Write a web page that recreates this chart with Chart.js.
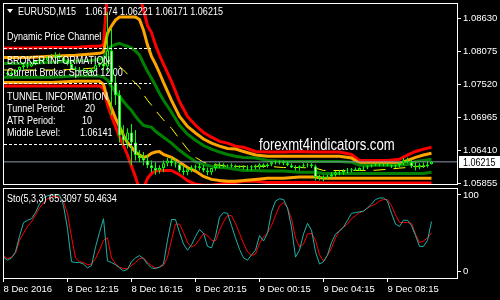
<!DOCTYPE html>
<html><head><meta charset="utf-8">
<script src="https://cdn.jsdelivr.net/npm/chart.js@4.4.0/dist/chart.umd.min.js"></script>
<style>
html,body{margin:0;padding:0;background:#000;width:500px;height:300px;overflow:hidden}
#c1{position:absolute;left:0;top:0}
#c2{position:absolute;left:0;top:186px}
</style></head><body>
<canvas id="c1" width="500" height="188"></canvas>
<canvas id="c2" width="500" height="114"></canvas>
<script>
// ---- candles (EURUSD M15, one value per bar) ----
const opens = [1.0772,1.0771,1.0769,1.0772,1.0776,1.0781,1.0784,1.0782,1.0787,1.0791,
1.0794,1.0792,1.0797,1.0796,1.0801,1.0797,1.0791,1.0786,1.0779,1.0777,
1.0776,1.0774,1.0772,1.0777,1.0784,1.0787,1.0782,1.0809,1.0755,1.0734,
1.0666,1.0658,1.0671,1.0654,1.0633,1.0628,1.0624,1.0616,1.0611,1.0607,
1.0611,1.0619,1.0624,1.0619,1.0617,1.0607,1.0604,1.0609,1.0612,1.0614,
1.0611,1.0607,1.0604,1.0611,1.0616,1.0617,1.0616,1.0616,1.0614,1.0614,
1.0612,1.0611,1.0612,1.0614,1.0612,1.0617,1.0614,1.0617,1.0621,1.0622,
1.0621,1.0619,1.0616,1.0612,1.0611,1.0614,1.0616,1.0617,1.0614,1.0596,
1.0594,1.0596,1.0597,1.0600,1.0604,1.0604,1.0606,1.0607,1.0609,1.0607,
1.0611,1.0612,1.0614,1.0616,1.0617,1.0616,1.0617,1.0616,1.0614,1.0616,
1.0619,1.0624,1.0621,1.0614,1.0612,1.0616,1.0614,1.06174];
const highs = [1.0777,1.0774,1.0774,1.0777,1.0782,1.0786,1.0787,1.0789,1.0792,1.0796,
1.0797,1.0799,1.0803,1.0806,1.0804,1.0799,1.0794,1.0789,1.0782,1.0781,
1.0779,1.0777,1.0779,1.0786,1.0789,1.0796,1.0874,1.0846,1.0767,1.0742,
1.0683,1.0678,1.0685,1.0675,1.0641,1.0638,1.0633,1.0624,1.0621,1.0616,
1.0624,1.0628,1.0629,1.0628,1.0621,1.0616,1.0612,1.0616,1.0617,1.0619,
1.0616,1.0612,1.0611,1.0619,1.0621,1.0619,1.0617,1.0619,1.0617,1.0616,
1.0616,1.0616,1.0616,1.0617,1.0619,1.0619,1.0619,1.0622,1.0624,1.0624,
1.0624,1.0622,1.0619,1.0616,1.0616,1.0619,1.0619,1.0619,1.0617,1.0600,
1.0599,1.0600,1.0604,1.0606,1.0607,1.0609,1.0611,1.0611,1.0612,1.0612,
1.0614,1.0616,1.0617,1.0619,1.0619,1.0619,1.0619,1.0617,1.0617,1.0621,
1.0628,1.0629,1.0626,1.0621,1.0619,1.0621,1.0622,1.06221];
const lows = [1.0767,1.0766,1.0766,1.0769,1.0774,1.0777,1.0779,1.0781,1.0784,1.0787,
1.0789,1.0791,1.0792,1.0794,1.0794,1.0789,1.0784,1.0777,1.0774,1.0772,
1.0771,1.0769,1.0771,1.0776,1.0781,1.0776,1.0772,1.0700,1.0717,1.0654,
1.0649,1.0644,1.0616,1.0624,1.0621,1.0616,1.0611,1.0604,1.0600,1.0602,
1.0604,1.0614,1.0614,1.0612,1.0604,1.0599,1.0599,1.0604,1.0607,1.0607,
1.0604,1.0599,1.0600,1.0607,1.0611,1.0612,1.0612,1.0612,1.0611,1.0611,
1.0609,1.0607,1.0607,1.0609,1.0609,1.0611,1.0612,1.0614,1.0617,1.0617,
1.0616,1.0614,1.0611,1.0607,1.0607,1.0611,1.0612,1.0611,1.0590,1.0590,
1.0589,1.0592,1.0594,1.0597,1.0599,1.0600,1.0602,1.0604,1.0606,1.0606,
1.0607,1.0609,1.0612,1.0614,1.0614,1.0614,1.0614,1.0611,1.0611,1.0612,
1.0616,1.0619,1.0611,1.0607,1.0609,1.0611,1.0612,1.06171];
const closes = [1.0771,1.0769,1.0772,1.0776,1.0781,1.0784,1.0782,1.0787,1.0791,1.0794,
1.0792,1.0797,1.0796,1.0801,1.0797,1.0791,1.0786,1.0779,1.0777,1.0776,
1.0774,1.0772,1.0777,1.0784,1.0787,1.0782,1.0809,1.0755,1.0734,1.0666,
1.0658,1.0671,1.0654,1.0633,1.0628,1.0624,1.0616,1.0611,1.0607,1.0611,
1.0619,1.0624,1.0619,1.0617,1.0607,1.0604,1.0609,1.0612,1.0614,1.0611,
1.0607,1.0604,1.0611,1.0616,1.0617,1.0616,1.0615,1.0614,1.0613,1.0612,
1.0611,1.0612,1.0614,1.0612,1.0617,1.0614,1.0617,1.0621,1.0622,1.0621,
1.0619,1.0616,1.0612,1.0611,1.0614,1.0616,1.0617,1.0614,1.0596,1.0594,
1.0596,1.0597,1.0600,1.0604,1.0603,1.0606,1.0607,1.0609,1.0607,1.0611,
1.0612,1.0614,1.0616,1.0617,1.0616,1.0617,1.0616,1.0614,1.0616,1.0619,
1.0624,1.0621,1.0614,1.0612,1.0616,1.0614,1.0617,1.06215];

// ---- channel lines, read at these bars ----
const bandBars = [0,6,12,18,22,24,25,26,27,28,29,30,31,32,33,34,35,36,37,38,39,40,42,44,46,48,50,52,54,56,58,60,63,66,70,74,78,80,84,87,89,92,96,99,101,103,105,107];
const redUpper = [1.0813,1.0813,1.0814,1.0814,1.0816,1.0816,1.0818,1.0910,1.0944,1.0952,1.0952,1.0952,1.0952,1.0952,1.0952,1.0902,1.0877,1.0851,1.0839,1.0818,1.0801,1.0786,1.0757,1.0723,1.0698,1.0683,1.0671,1.0663,1.0656,1.0653,1.0648,1.0646,1.0639,1.0638,1.0638,1.0639,1.0638,1.0638,1.0638,1.0634,1.0624,1.0624,1.0624,1.0626,1.0633,1.0639,1.0643,1.0646];
const orangeUpper = [1.0797,1.0797,1.0799,1.0801,1.0803,1.0804,1.0806,1.0838,1.0850,1.0860,1.0865,1.0865,1.0865,1.0865,1.0865,1.0861,1.0843,1.0818,1.0799,1.0786,1.0771,1.0755,1.0725,1.0698,1.0681,1.0670,1.0660,1.0653,1.0648,1.0644,1.0643,1.0639,1.0633,1.0631,1.0631,1.0631,1.0631,1.0631,1.0631,1.0628,1.0619,1.0619,1.0619,1.0619,1.0624,1.0629,1.0633,1.0636];
const greenUpper = [1.0787,1.0787,1.0789,1.0791,1.0792,1.0794,1.0797,1.0809,1.0816,1.0819,1.0821,1.0818,1.0816,1.0813,1.0808,1.0801,1.0787,1.0774,1.0762,1.0750,1.0737,1.0725,1.0705,1.0683,1.0668,1.0658,1.0649,1.0643,1.0638,1.0634,1.0631,1.0629,1.0628,1.0624,1.0622,1.0622,1.0622,1.0622,1.0622,1.0621,1.0616,1.0616,1.0616,1.0616,1.0617,1.0622,1.0624,1.0626];
const middle = [1.0776,1.0776,1.0776,1.0777,1.0779,1.0781,1.0782,1.0791,1.0792,1.0787,1.0782,1.0776,1.0769,1.0760,1.0754,1.0747,1.0735,1.0725,1.0717,1.0708,1.0700,1.0692,1.0678,1.0660,1.0643,1.0629,1.0621,1.0617,1.0616,1.0614,1.0614,1.0614,1.0614,1.0614,1.0612,1.0612,1.0611,1.0607,1.0607,1.0607,1.0607,1.0607,1.0609,1.0611,1.0612,1.0614,1.0614,1.0614];
const greenLower = [1.0764,1.0764,1.0764,1.0766,1.0766,1.0766,1.0764,1.0759,1.0749,1.0739,1.0732,1.0723,1.0715,1.0708,1.0698,1.0690,1.0683,1.0681,1.0680,1.0673,1.0668,1.0663,1.0653,1.0641,1.0631,1.0622,1.0617,1.0614,1.0612,1.0611,1.0609,1.0607,1.0607,1.0606,1.0606,1.0604,1.0604,1.0602,1.0602,1.0602,1.0602,1.0602,1.0602,1.0602,1.0602,1.0602,1.0602,1.0604];
const orangeLower = [1.0755,1.0755,1.0755,1.0757,1.0757,1.0757,1.0752,1.0728,1.0712,1.0695,1.0681,1.0666,1.0654,1.0646,1.0638,1.0633,1.0629,1.0631,1.0636,1.0638,1.0639,1.0634,1.0629,1.0621,1.0612,1.0606,1.0597,1.0592,1.0590,1.0589,1.0589,1.0590,1.0592,1.0594,1.0594,1.0596,1.0596,1.0594,1.0594,1.0594,1.0594,1.0594,1.0594,1.0594,1.0594,1.0594,1.0594,1.0594];
const redLower = [1.0749,1.0749,1.0749,1.0749,1.0749,1.0749,1.0745,1.0718,1.0698,1.0681,1.0663,1.0649,1.0633,1.0614,1.0596,1.0574,1.0577,1.0594,1.0602,1.0606,1.0607,1.0607,1.0607,1.0600,1.0590,1.0584,1.0582,1.0582,1.0584,1.0586,1.0587,1.0589,1.0589,1.0587,1.0587,1.0587,1.0587,1.0586,1.0586,1.0586,1.0586,1.0586,1.0586,1.0586,1.0586,1.0586,1.0586,1.0586];

// ---- stochastic (5,3,3) ----
const stochMain = [19,15,18,26,46,64,67,69,77,88,
96,99,100,100,100,86,56,13,12,12,
10,5,8,32,51,69,14,12,9,5,
1,3,13,18,21,17,10,5,4,6,
10,41,68,68,51,36,28,35,46,55,
50,33,31,46,71,77,76,60,44,29,
18,15,22,28,47,40,50,78,92,95,
94,83,58,19,28,49,63,54,26,10,
13,22,38,49,53,58,67,76,77,78,
79,83,88,94,96,96,92,76,62,59,
67,67,60,47,33,33,41,65.3097];
const stochSignal = [21,17,19,24,41,50,59,65,74,83,
90,95,97,99,97,91,76,45,18,13,
12,9,10,17,28,41,44,18,10,6,
4,4,8,12,17,18,12,8,5,6,
8,19,41,62,62,51,38,32,35,42,
50,47,41,40,54,65,73,73,63,50,
37,26,21,23,37,45,51,60,73,86,
90,83,69,44,32,36,49,50,41,22,
14,21,31,44,54,58,62,69,73,77,
79,83,86,88,92,94,94,86,74,64,
64,64,63,49,38,40,44,50.4634];

// ---- axes ----
const priceTicks = [1.08630,1.08075,1.07520,1.06965,1.06410,1.05855];
const stochTicks = [0,100];
const timeTicks = [0,16,32,48,64,80,96];
const timeLabels = ['8 Dec 2016','8 Dec 12:15','8 Dec 16:15','8 Dec 20:15','9 Dec 00:15','9 Dec 04:15','9 Dec 08:15'];
const lastPrice = 1.06215;

const FONT = "'Liberation Sans',Arial,sans-serif";
const TICKFONT = {family:FONT, size:9.5};
const XMIN = -0.125, XMAX = 113.625;
const NARROW = 0.82;

// draws condensed text (narrow Tahoma-like look)
function narrowText(ctx, s, x, y, size){
  ctx.save();
  ctx.font = size + 'px ' + FONT;
  ctx.scale(NARROW, 1);
  ctx.fillText(s, x / NARROW, y);
  ctx.restore();
}

const framePlugin = {
  id:'frame',
  afterDraw(chart){
    const a = chart.chartArea, ctx = chart.ctx;
    ctx.save();
    ctx.strokeStyle = '#fff'; ctx.lineWidth = 1;
    ctx.strokeRect(a.left+0.5, a.top+0.5, a.right-a.left-1, a.bottom-a.top-1);
    ctx.restore();
  }
};

const overlayPlugin = {
  id:'overlay',
  afterDatasetsDraw(chart){
    const ctx = chart.ctx;
    ctx.save();
    ctx.strokeStyle = '#fff'; ctx.lineWidth = 1; ctx.setLineDash([3,2]);
    [48.5, 83.5, 144.5].forEach(y=>{ctx.beginPath();ctx.moveTo(4,y);ctx.lineTo(151,y);ctx.stroke();});
    ctx.setLineDash([]);
    ctx.fillStyle = '#fff';
    ctx.textBaseline = 'alphabetic';
    const t = [
      [18,15,'EURUSD,M15'],[85,15,'1.06174 1.06221 1.06171 1.06215'],
      [7,39.5,'Dynamic Price Channel'],
      [7,64,'BROKER INFORMATION:'],
      [7,75.5,'Current Broker Spread 12.00'],
      [7,99.5,'TUNNEL INFORMATION'],
      [7,112,'Tunnel Period:'],[85,112,'20'],
      [7,124,'ATR Period:'],[82,124,'10'],
      [7,135.5,'Middle Level:'],[80,135.5,'1.06141']
    ];
    t.forEach(([x,y,s])=>narrowText(ctx, s, x, y, 11));
    ctx.beginPath(); ctx.moveTo(7,9); ctx.lineTo(13,9); ctx.lineTo(10,13); ctx.closePath(); ctx.fill();
    narrowText(ctx, 'forexmt4indicators.com', 259, 149.5, 16);
    ctx.restore();
  },
  afterDraw(chart){
    const ctx = chart.ctx, y = Math.round(chart.scales.y.getPixelForValue(lastPrice));
    ctx.save();
    ctx.fillStyle = '#fff';
    ctx.fillRect(459, y-6, 41, 12);
    ctx.fillStyle = '#000';
    ctx.textBaseline = 'middle';
    narrowText(ctx, lastPrice.toFixed(5), 463, y+0.5, 11);
    ctx.restore();
  }
};

const line = (xs, ys, color, width, extra) => Object.assign({
  type:'line', data: xs.map((x,i)=>({x, y:ys[i]})), borderColor: color, borderWidth: width,
  pointRadius:0, tension:0, fill:false, clip:0
}, extra||{});

const bars = opens.map((_,i)=>i);

new Chart(document.getElementById('c1'), {
  type:'bar',
  data:{datasets:[
    {type:'bar', data: bars.map(i=>({x:i, y:[opens[i], closes[i]]})),
      backgroundColor: c => (c.dataIndex!==undefined && closes[c.dataIndex] < opens[c.dataIndex]) ? '#ffffff' : '#000000',
      borderColor:'#00ff00', borderWidth:1, borderSkipped:false, barThickness:3, grouped:false, inflateAmount:0, order:0, clip:0},
    {type:'bar', data: bars.map(i=>({x:i, y:[lows[i], highs[i]]})),
      backgroundColor:'#00ff00', borderWidth:0, barThickness:1, grouped:false, inflateAmount:0, order:1, clip:0},
    line([XMIN, XMAX], [lastPrice, lastPrice], '#8a98a8', 1, {order:2}),
    line(bandBars, middle, '#ffff00', 1, {borderDash:[12,8], order:3}),
    line(bandBars, greenUpper, '#008000', 3, {order:4}),
    line(bandBars, greenLower, '#008000', 3, {order:5}),
    line(bandBars, orangeUpper, '#ffa500', 3, {order:6}),
    line(bandBars, orangeLower, '#ffa500', 3, {order:7}),
    line(bandBars, redUpper, '#ff0000', 3, {order:8}),
    line(bandBars, redLower, '#ff0000', 3, {order:9})
  ]},
  options:{
    responsive:false, animation:false, events:[],
    layout:{padding:{left:3, right:0, top:3, bottom:3}},
    plugins:{legend:{display:false}, tooltip:{enabled:false}},
    scales:{
      x:{type:'linear', min:XMIN, max:XMAX, offset:false, display:false, grid:{offset:false}},
      y:{type:'linear', position:'right', min:1.05826, max:1.08887,
        afterBuildTicks: s => { s.ticks = priceTicks.map(v=>({value:v})); },
        afterFit: s => { s.width = 42; s.paddingTop = 0; s.paddingBottom = 0; },
        ticks:{color:'#fff', font:TICKFONT, padding:2, callback: v => Number(v).toFixed(5)},
        grid:{drawOnChartArea:false, drawTicks:true, tickLength:3, color:'#fff'},
        border:{display:false}}
    }
  },
  plugins:[overlayPlugin, framePlugin]
});

const stochPlugin = {
  id:'stochLabel',
  afterDatasetsDraw(chart){
    const ctx = chart.ctx;
    ctx.save();
    ctx.fillStyle = '#fff';
    narrowText(ctx, 'Sto(5,3,3) ' + stochMain[stochMain.length-1].toFixed(4) + ' ' + stochSignal[stochSignal.length-1].toFixed(4), 7, 16, 11);
    ctx.restore();
  }
};

new Chart(document.getElementById('c2'), {
  type:'line',
  data:{datasets:[
    line(bars, stochSignal, '#ff0000', 1, {order:1}),
    line(bars, stochMain, '#20b2aa', 1, {order:0})
  ]},
  options:{
    responsive:false, animation:false, events:[],
    layout:{padding:{left:3, right:0, top:2, bottom:0}},
    plugins:{legend:{display:false}, tooltip:{enabled:false}},
    scales:{
      x:{type:'linear', min:XMIN, max:XMAX, offset:false,
        afterBuildTicks: s => { s.ticks = timeTicks.map(v=>({value:v})); },
        afterFit: s => { s.height = 21; s.paddingLeft = 0; s.paddingRight = 0; },
        ticks:{color:'#fff', font:TICKFONT, align:'start', padding:2, maxRotation:0, autoSkip:false,
          callback: v => timeLabels[timeTicks.indexOf(v)]},
        grid:{drawOnChartArea:false, drawTicks:true, tickLength:3, color:'#fff'},
        border:{display:false}},
      y:{type:'linear', position:'right', min:-9.5, max:109,
        afterBuildTicks: s => { s.ticks = stochTicks.map(v=>({value:v})); },
        afterFit: s => { s.width = 42; s.paddingTop = 0; s.paddingBottom = 0; },
        ticks:{color:'#fff', font:TICKFONT, padding:2, callback: v => String(v)},
        grid:{drawOnChartArea:false, drawTicks:true, tickLength:3, color:'#fff'},
        border:{display:false}}
    }
  },
  plugins:[stochPlugin, framePlugin]
});
</script></body></html>
